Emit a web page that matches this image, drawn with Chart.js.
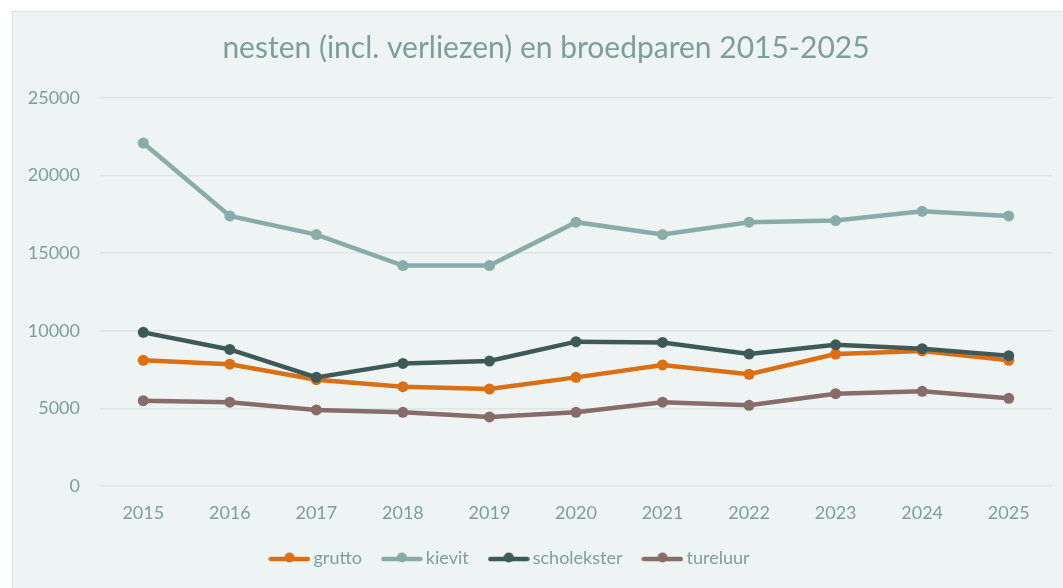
<!DOCTYPE html>
<html>
<head>
<meta charset="utf-8">
<script src="https://cdn.jsdelivr.net/npm/chart.js@4"></script>
<style>
  html, body { margin: 0; padding: 0; background: #ffffff; }
  #frame {
    position: absolute; left: 12px; top: 11px; width: 1060px; height: 590px;
    background: #eef4f4; border: 1px solid #d9e3e3;
  }
  #wrap { position: absolute; left: 0; top: 0; width: 1063px; height: 588px; }
</style>
</head>
<body>
<div id="frame"></div>
<div id="wrap"><canvas id="chart"></canvas></div>
<script>
const years = ["2015", "2016", "2017", "2018", "2019", "2020", "2021", "2022", "2023", "2024", "2025"];
const grutto = [8100, 7850, 6850, 6400, 6250, 7000, 7800, 7200, 8500, 8700, 8100];
const kievit = [22100, 17400, 16200, 14200, 14200, 17000, 16200, 17000, 17100, 17700, 17400];
const scholekster = [9900, 8800, 7000, 7900, 8050, 9300, 9250, 8500, 9100, 8850, 8400];
const tureluur = [5500, 5400, 4900, 4750, 4450, 4750, 5400, 5200, 5950, 6100, 5650];
const seriesNames = ["grutto", "kievit", "scholekster", "tureluur"];
const seriesColors = ["#dc6f14", "#88acaa", "#3e5a58", "#886c69"];

const textColor = "#7d9e9c";
const fontFamily = "Lato, 'Open Sans', sans-serif";

// legend marker: short line with a dot in the middle, like the office chart
function legendMarker(color) {
  const c = document.createElement("canvas");
  c.width = 42;
  c.height = 12;
  const ctx = c.getContext("2d");
  ctx.strokeStyle = color;
  ctx.lineWidth = 4.5;
  ctx.lineCap = "round";
  ctx.beginPath();
  ctx.moveTo(2.5, 7);
  ctx.lineTo(39.5, 7);
  ctx.stroke();
  ctx.fillStyle = color;
  ctx.beginPath();
  ctx.arc(21, 5.5, 5, 0, Math.PI * 2);
  ctx.fill();
  return c;
}

// title sits a bit right, legend a bit left of the canvas centre in the original
const boxShift = {
  id: "boxShift",
  afterLayout(chart) {
    chart.titleBlock.left += 20;
    chart.titleBlock.right += 20;
    chart.legend.left -= 14;
    chart.legend.right -= 14;
  },
};

const seriesData = [grutto, kievit, scholekster, tureluur];
const datasets = seriesData.map((values, i) => ({
  label: seriesNames[i],
  data: values,
  borderColor: seriesColors[i],
  backgroundColor: seriesColors[i],
  borderWidth: 4.5,
  pointRadius: 5.5,
  pointBorderWidth: 0,
  pointHoverRadius: 5.5,
  tension: 0,
  order: seriesData.length - i,
}));

new Chart(document.getElementById("chart"), {
  type: "line",
  data: { labels: years, datasets: datasets },
  plugins: [boxShift],
  options: {
    responsive: true,
    maintainAspectRatio: false,
    animation: false,
    layout: { padding: { top: 0, right: 11, bottom: 11, left: 0 } },
    plugins: {
      title: {
        display: true,
        text: "nesten (incl. verliezen) en broedparen 2015-2025",
        color: textColor,
        font: { family: fontFamily, size: 30, weight: "normal" },
        padding: { top: 30, bottom: 32 },
      },
      legend: {
        position: "bottom",
        labels: {
          color: textColor,
          font: { family: fontFamily, size: 18 },
          usePointStyle: true,
          pointStyleWidth: 30,
          padding: 25,
          generateLabels: (chart) =>
            chart.data.datasets.map((ds, i) => ({
              text: ds.label,
              fillStyle: ds.borderColor,
              strokeStyle: ds.borderColor,
              lineWidth: 0,
              pointStyle: legendMarker(ds.borderColor),
              fontColor: textColor,
              hidden: false,
              datasetIndex: i,
            })),
        },
      },
      tooltip: { enabled: false },
    },
    scales: {
      x: {
        offset: true,
        afterFit: (scale) => { scale.height = 38; },
        grid: { display: false, drawTicks: false },
        border: { display: false },
        ticks: {
          color: textColor,
          font: { family: fontFamily, size: 18 },
          padding: 16,
          maxRotation: 0,
        },
      },
      y: {
        min: 0,
        max: 25000,
        afterFit: (scale) => { scale.width = 100; },
        grid: { color: "#dce6e5", lineWidth: 1.5, drawTicks: false },
        border: { display: false },
        ticks: {
          stepSize: 5000,
          color: textColor,
          font: { family: fontFamily, size: 18 },
          padding: 20,
          callback: (value) => String(value),
        },
      },
    },
  },
});
</script>
</body>
</html>
